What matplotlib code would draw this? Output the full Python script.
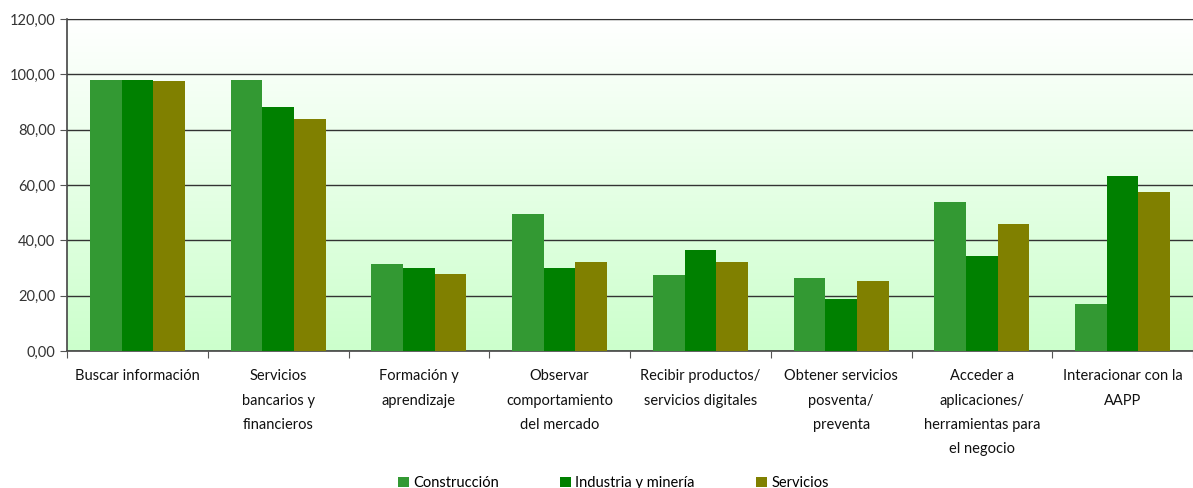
import matplotlib.pyplot as plt
import numpy as np
from matplotlib.colors import LinearSegmentedColormap

categories = ["Buscar información",
              "Servicios\nbancarios y\nfinancieros",
              "Formación y\naprendizaje",
              "Observar\ncomportamiento\ndel mercado",
              "Recibir productos/\nservicios digitales",
              "Obtener servicios\nposventa/\npreventa",
              "Acceder a\naplicaciones/\nherramientas para\nel negocio",
              "Interacionar con la\nAAPP"]
construccion = [98.0, 98.0, 31.4, 49.5, 27.5, 26.4, 53.8, 17.0]
industria = [97.9, 88.2, 30.0, 30.0, 36.5, 18.8, 34.3, 63.2]
servicios = [97.5, 83.8, 27.8, 32.2, 32.2, 25.3, 45.9, 57.5]
series_names = ["Construcción", "Industria y minería", "Servicios"]
colors = ["#339933", "#008000", "#808000"]

plt.rcParams['font.family'] = ['Lato', 'DejaVu Sans']

fig = plt.figure(figsize=(11.93, 4.88), dpi=100)
ax = fig.add_axes([0.0562, 0.2807, 0.9438, 0.6803])

# gradient background
cmap = LinearSegmentedColormap.from_list("bg", ["#ccffcc", "#ffffff"])
grad = np.linspace(0, 1, 256).reshape(-1, 1)
ax.imshow(grad, aspect='auto', cmap=cmap, origin='lower',
          extent=[-0.5, len(categories) - 0.5, 0, 120], zorder=0)

x = np.arange(len(categories))
w = 0.225
for i, (vals, name) in enumerate(zip([construccion, industria, servicios], series_names)):
    ax.bar(x + (i - 1) * w, vals, w, color=colors[i], label=name, zorder=3)

ax.set_xlim(-0.5, len(categories) - 0.5)
ax.set_ylim(0, 120)
ax.set_yticks(np.arange(0, 121, 20))
ax.set_yticklabels([f"{v:.2f}".replace(".", ",") for v in np.arange(0, 121, 20)], fontsize=10.5, color="#333333")
ax.yaxis.grid(True, color="#333333", linewidth=1)
ax.set_axisbelow(False)
for gl in ax.get_ygridlines():
    gl.set_zorder(1)

ax.set_xticks(np.arange(len(categories) + 1) - 0.5)
ax.set_xticklabels([])
ax.set_xticks(x, minor=True)
ax.set_xticklabels(categories, minor=True, fontsize=10.5, color="#111111", linespacing=1.95, va='top')
ax.tick_params(axis='x', which='minor', length=0, pad=13)
ax.tick_params(axis='x', which='major', length=5, color="#555555")
ax.tick_params(axis='y', length=5, color="#555555")

for s in ['left', 'bottom']:
    ax.spines[s].set_color("#444444")
    ax.spines[s].set_linewidth(1.2)
ax.spines['top'].set_color("#888888")
ax.spines['right'].set_visible(False)

ax.legend(loc='center', bbox_to_anchor=(0.514, 0.01), bbox_transform=fig.transFigure,
          ncol=3, frameon=False, fontsize=10.5, handlelength=0.75, handleheight=0.75,
          handletextpad=0.3, columnspacing=4.2, borderpad=0)

fig.savefig("out.png", dpi=100)
